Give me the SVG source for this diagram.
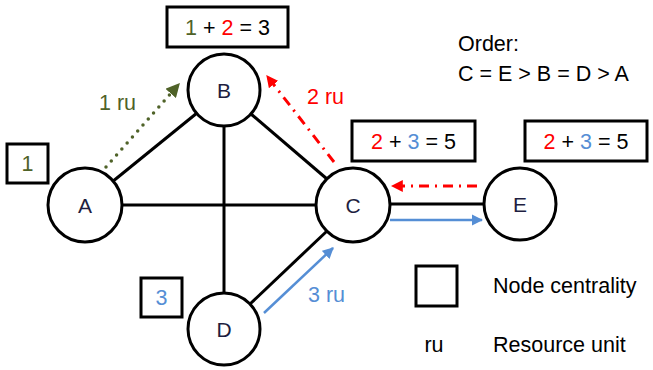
<svg xmlns="http://www.w3.org/2000/svg" width="653" height="370" viewBox="0 0 653 370">
<style>
.t{font-family:"Liberation Sans",Arial,sans-serif;font-size:21.5px;fill:#000}
.n{font-family:"Liberation Sans",Arial,sans-serif;font-size:21px;fill:#1e1e40;text-anchor:middle}
.c{text-anchor:middle}
.node{fill:#fff;stroke:#000;stroke-width:3}
.box{fill:#fff;stroke:#000;stroke-width:3}
.edge{stroke:#000;stroke-width:3;fill:none}
.g{fill:#4f6228}.r{fill:#ff0000}.b{fill:#558ed5}
</style>
<defs>
<marker id="mg" viewBox="0 0 10 10" refX="9" refY="5" markerWidth="4" markerHeight="4" orient="auto"><path d="M0,0L10,5L0,10z" fill="#4f6228"/></marker>
<marker id="mr" viewBox="0 0 10 10" refX="9" refY="5" markerWidth="4" markerHeight="4" orient="auto"><path d="M0,0L10,5L0,10z" fill="#ff0000"/></marker>
<marker id="mb" viewBox="0 0 10 10" refX="9" refY="5" markerWidth="4.5" markerHeight="4.5" orient="auto"><path d="M0,0L10,5L0,10z" fill="#558ed5"/></marker>
</defs>
<g id="connectors">
<line class="edge" x1="112" y1="182" x2="197" y2="113"/>
<line class="edge" x1="122" y1="205" x2="316" y2="205"/>
<line class="edge" x1="224" y1="126" x2="224" y2="293"/>
<line class="edge" x1="251" y1="114" x2="327" y2="179"/>
<line class="edge" x1="250" y1="304" x2="327" y2="231"/>
<line class="edge" x1="390" y1="204" x2="484" y2="204"/>
<line x1="106" y1="167" x2="179" y2="84" stroke="#4f6228" stroke-width="3.5" stroke-linecap="round" stroke-dasharray="0 8" marker-end="url(#mg)"/>
<line x1="334" y1="162" x2="267" y2="76" stroke="#ff0000" stroke-width="3" stroke-dasharray="10 6 2 6" marker-end="url(#mr)"/>
<line x1="477" y1="186" x2="392" y2="186" stroke="#ff0000" stroke-width="3" stroke-dasharray="10 6 2 6" marker-end="url(#mr)"/>
<line x1="390" y1="220" x2="482" y2="220" stroke="#558ed5" stroke-width="2.5" marker-end="url(#mb)"/>
<line x1="264" y1="313" x2="333" y2="248" stroke="#558ed5" stroke-width="2.5" marker-end="url(#mb)"/>
<text class="t g" x="99" y="110">1 ru</text>
<text class="t r" x="307" y="104">2 ru</text>
<text class="t b" x="308" y="302">3 ru</text>
</g>
<g id="node-A"><circle class="node" cx="85" cy="205" r="37"/><text class="n" x="85" y="212.5">A</text></g>
<g id="node-B"><circle class="node" cx="224" cy="90" r="36"/><text class="n" x="224" y="97.5">B</text></g>
<g id="node-C"><circle class="node" cx="353" cy="205" r="37"/><text class="n" x="353" y="212.5">C</text></g>
<g id="node-D"><circle class="node" cx="224" cy="329" r="36"/><text class="n" x="224" y="336.5">D</text></g>
<g id="node-E"><circle class="node" cx="520" cy="204" r="36"/><text class="n" x="520" y="211.5">E</text></g>
<g id="box-A"><rect class="box" x="7" y="144" width="41" height="39"/><text class="t g c" x="27.5" y="171">1</text></g>
<g id="box-B"><rect class="box" x="167" y="7" width="121" height="40"/><text class="t c" x="227.5" y="35"><tspan class="g">1</tspan> + <tspan class="r">2</tspan> = 3</text></g>
<g id="box-C"><rect class="box" x="352" y="121" width="123" height="40"/><text class="t c" x="413.5" y="149"><tspan class="r">2</tspan> + <tspan class="b">3</tspan> = 5</text></g>
<g id="box-E"><rect class="box" x="525" y="121" width="122" height="40"/><text class="t c" x="586" y="149"><tspan class="r">2</tspan> + <tspan class="b">3</tspan> = 5</text></g>
<g id="box-D"><rect class="box" x="141" y="278" width="41" height="39"/><text class="t b c" x="161.5" y="305">3</text></g>
<g id="order"><text class="t" x="458" y="51">Order:</text><text class="t" x="458" y="81">C = E &gt; B = D &gt; A</text></g>
<g id="legend">
<rect class="box" x="416" y="266" width="41" height="40"/>
<text class="t" x="493" y="293">Node centrality</text>
<text class="t c" x="434" y="352">ru</text>
<text class="t" x="493" y="352">Resource unit</text>
</g>
</svg>
